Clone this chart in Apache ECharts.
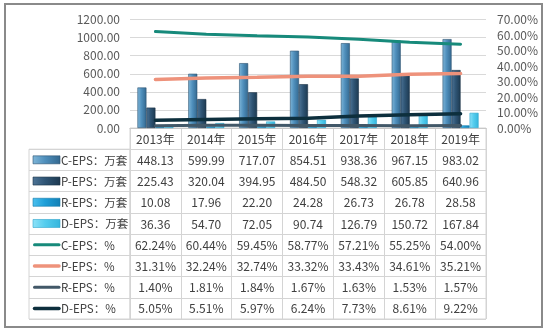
<!DOCTYPE html>
<html>
<head>
<meta charset="utf-8">
<script src="https://cdn.jsdelivr.net/npm/echarts@6/dist/echarts.min.js"></script>
<style>
  html, body { margin: 0; padding: 0; background: #fff; }
  #chart { width: 548px; height: 334px; }
</style>
</head>
<body>
<div id="chart"></div>
<script>
// Years shown on the category axis and in the table header
const years = ['2013年', '2014年', '2015年', '2016年', '2017年', '2018年', '2019年'];

// Sales volume (万套) by product type
const cUnits = [448.13, 599.99, 717.07, 854.51, 938.36, 967.15, 983.02];
const pUnits = [225.43, 320.04, 394.95, 484.50, 548.32, 605.85, 640.96];
const rUnits = [10.08, 17.96, 22.20, 24.28, 26.73, 26.78, 28.58];
const dUnits = [36.36, 54.70, 72.05, 90.74, 126.79, 150.72, 167.84];

// Share of total (%) by product type
const cShare = [62.24, 60.44, 59.45, 58.77, 57.21, 55.25, 54.00];
const pShare = [31.31, 32.24, 32.74, 33.32, 33.43, 34.61, 35.21];
const rShare = [1.40, 1.81, 1.84, 1.67, 1.63, 1.53, 1.57];
const dShare = [5.05, 5.51, 5.97, 6.24, 7.73, 8.61, 9.22];

// Axis ranges
const unitTicks = { min: 0, max: 1200, interval: 200 };
const shareTicks = { min: 0, max: 70, interval: 10 };

const FONT = '"Noto Sans CJK SC", "Noto Sans", sans-serif';
const TEXT = '#404040';

function vGrad(c1, c2, c3) {
  return new echarts.graphic.LinearGradient(0, 0, 1, 0, [
    { offset: 0, color: c1 }, { offset: 0.45, color: c2 }, { offset: 1, color: c3 }
  ]);
}

const rows = [
  { name: 'C-EPS：万套', kind: 'bar', data: cUnits, fill: ['#7fb6d8', '#4f8fbc', '#33688f'], border: '#2c5270' },
  { name: 'P-EPS：万套', kind: 'bar', data: pUnits, fill: ['#4e7496', '#2f5575', '#1d3950'], border: '#1b3347' },
  { name: 'R-EPS：万套', kind: 'bar', data: rUnits, fill: ['#4cc0ee', '#1f9fd8', '#137fb5'], border: '#1378aa' },
  { name: 'D-EPS：万套', kind: 'bar', data: dUnits, fill: ['#8ee2f8', '#55cdee', '#35b5dc'], border: '#2fa6cc' },
  { name: 'C-EPS：%', kind: 'line', data: cShare, color: '#178a7b', width: 3 },
  { name: 'P-EPS：%', kind: 'line', data: pShare, color: '#ee927b', width: 3.5 },
  { name: 'R-EPS：%', kind: 'line', data: rShare, color: '#425868', width: 3 },
  { name: 'D-EPS：%', kind: 'line', data: dShare, color: '#0d2f3d', width: 3.5 }
];

// Chart series
const chartSeries = rows.map(r => r.kind === 'bar' ? {
  name: r.name, type: 'bar', xAxisIndex: 0, yAxisIndex: 0,
  data: r.data, barWidth: 9, barGap: '0%',
  itemStyle: { color: vGrad(r.fill[0], r.fill[1], r.fill[2]), borderColor: r.border, borderWidth: 0.6 },
  z: 2
} : {
  name: r.name, type: 'line', xAxisIndex: 0, yAxisIndex: 1,
  data: r.data, symbol: 'none', smooth: false,
  lineStyle: { color: r.color, width: r.width, cap: 'round' },
  z: 3
});

// Table cells: header row of years, then one row per series
const cellData = [];
years.forEach((y, c) => cellData.push([c, 0, y]));
rows.forEach((r, i) => {
  r.data.forEach((v, c) => {
    cellData.push([c, i + 1, r.kind === 'bar' ? v.toFixed(2) : v.toFixed(2) + '%']);
  });
});

const tableRowsCat = ['h'].concat(rows.map(r => r.name));

const option = {
  backgroundColor: '#fff',
  animation: false,
  textStyle: { fontFamily: FONT },
  grid: [
    { left: 130, right: 62, top: 19.5, bottom: 206 },
    { left: 130, right: 62, top: 128, bottom: 15, show: true, borderColor: '#d4d4d4', borderWidth: 1 },
    { left: 29, width: 101, top: 149.2, bottom: 15, show: true, borderColor: '#d4d4d4', borderWidth: 1 }
  ],
  xAxis: [
    { type: 'category', gridIndex: 0, data: years, boundaryGap: true,
      axisLine: { show: true, lineStyle: { color: '#c8c8c8' } }, axisTick: { show: false }, axisLabel: { show: false } },
    { type: 'category', gridIndex: 1, data: years, boundaryGap: true,
      axisLine: { show: false }, axisTick: { show: false }, axisLabel: { show: false },
      splitLine: { show: true, interval: 0, lineStyle: { color: '#d4d4d4' } } },
    { type: 'category', gridIndex: 2, data: ['h'], boundaryGap: true,
      axisLine: { show: false }, axisTick: { show: false }, axisLabel: { show: false } }
  ],
  yAxis: [
    { type: 'value', gridIndex: 0, min: unitTicks.min, max: unitTicks.max, interval: unitTicks.interval,
      axisLine: { show: false }, axisTick: { show: false },
      axisLabel: { margin: 10, color: '#595959', fontSize: 12, fontFamily: FONT, formatter: v => v.toFixed(2) },
      splitLine: { show: true, lineStyle: { color: '#d9d9d9' } } },
    { type: 'value', gridIndex: 0, position: 'right', min: shareTicks.min, max: shareTicks.max, interval: shareTicks.interval,
      axisLine: { show: false }, axisTick: { show: false },
      axisLabel: { margin: 11, color: '#595959', fontSize: 12, fontFamily: FONT, formatter: v => v.toFixed(2) + '%' },
      splitLine: { show: false } },
    { type: 'category', gridIndex: 1, data: tableRowsCat, inverse: true, boundaryGap: true,
      axisLine: { show: false }, axisTick: { show: false }, axisLabel: { show: false },
      splitLine: { show: true, interval: 0, lineStyle: { color: '#d4d4d4' } } },
    { type: 'category', gridIndex: 2, data: rows.map(r => r.name), inverse: true, boundaryGap: true,
      axisLine: { show: false }, axisTick: { show: false }, axisLabel: { show: false },
      splitLine: { show: true, interval: 0, lineStyle: { color: '#d4d4d4' } } }
  ],
  series: chartSeries.concat([
    {
      type: 'custom', name: 'cells', xAxisIndex: 1, yAxisIndex: 2,
      data: cellData, silent: true,
      renderItem: (params, api) => {
        const p = api.coord([api.value(0), api.value(1)]);
        return {
          type: 'text', x: p[0], y: p[1] + 0.5,
          style: { text: cellData[params.dataIndex][2], align: 'center', verticalAlign: 'middle',
                   fill: TEXT, font: '12px ' + FONT }
        };
      }
    },
    {
      type: 'custom', name: 'rowHeads', xAxisIndex: 2, yAxisIndex: 3,
      data: rows.map((r, i) => [0, i]), silent: true,
      renderItem: (params, api) => {
        const r = rows[params.dataIndex];
        const p = api.coord([0, api.value(1)]);
        const s = api.size([1, 1]);
        const x0 = p[0] - s[0] / 2 + 4;
        const key = r.kind === 'bar' ? {
          type: 'rect', shape: { x: x0, y: p[1] - 4, width: 27, height: 8 },
          style: { fill: vGrad(r.fill[0], r.fill[1], r.fill[2]), stroke: r.border, lineWidth: 0.6 }
        } : {
          type: 'line', shape: { x1: x0 + 1.5, y1: p[1], x2: x0 + 26, y2: p[1] },
          style: { stroke: r.color, lineWidth: r.width, lineCap: 'round' }
        };
        return {
          type: 'group',
          children: [
            key,
            { type: 'text', x: x0 + 28, y: p[1] + 0.5,
              style: { text: r.name, align: 'left', verticalAlign: 'middle', fill: TEXT, font: '11.5px ' + FONT } }
          ]
        };
      }
    }
  ]),
  graphic: [
    { type: 'rect', shape: { x: 5, y: 4, width: 537, height: 323 },
      style: { fill: 'none', stroke: '#8a8a8a', lineWidth: 2 }, silent: true }
  ]
};

echarts.init(document.getElementById('chart'), null, { renderer: 'canvas' }).setOption(option);
</script>
</body>
</html>
